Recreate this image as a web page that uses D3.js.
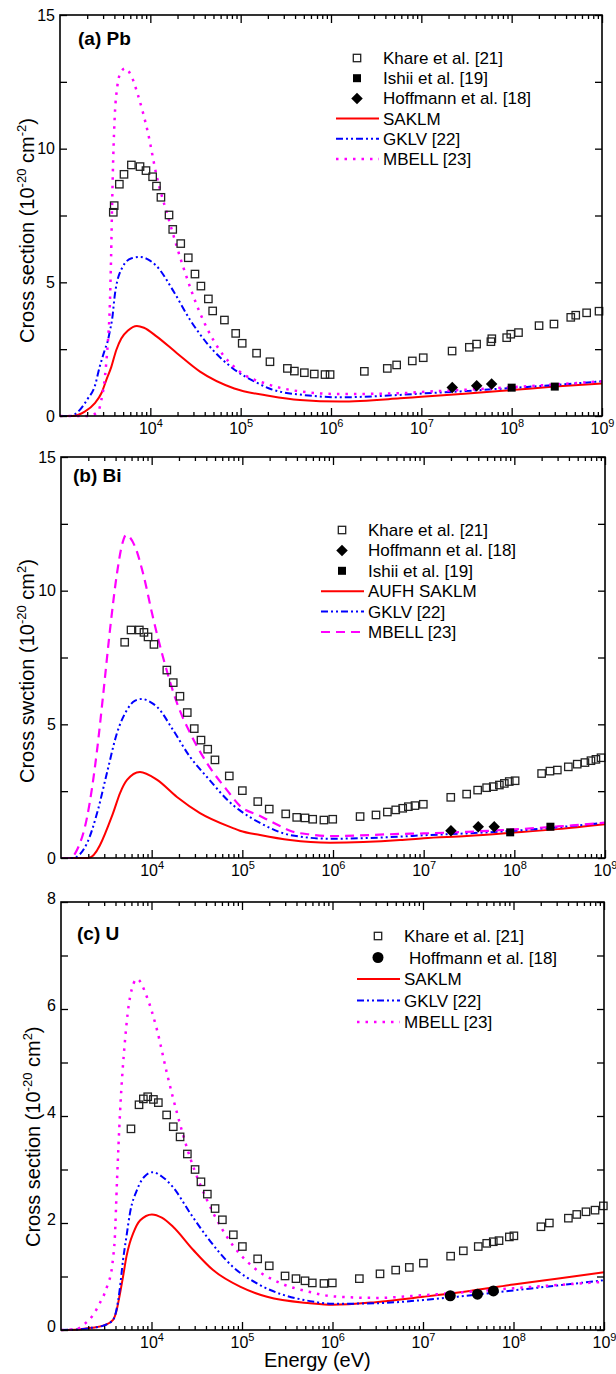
<!DOCTYPE html>
<html lang="en">
<head>
<meta charset="utf-8">
<style>
  body { margin: 0; background: #fff; }
  svg { display: block; font-family: "Liberation Sans", Arial, sans-serif; }
</style>
<script src="https://d3js.org/d3.v7.min.js"></script>
</head>
<body>
<svg width="616" height="1374"></svg>
<script>
// ---------- data : [energy (eV), cross section (1e-20 cm2)] ----------
var xTickValues = [1e4, 1e5, 1e6, 1e7, 1e8, 1e9];

// (a) Pb
var pbKhare = [[3890,7.62],[3980,7.87],[4540,8.67],[5110,9.04],[6170,9.39],[7690,9.33],[8950,9.18],
  [10600,8.95],[11700,8.6],[13100,8.18],[16100,7.52],[17700,6.98],[21700,6.45],[26300,5.92],
  [31200,5.31],[36300,4.86],[43900,4.38],[49000,3.93],[66100,3.59],[88100,3.09],[104000,2.72],
  [150000,2.35],[211000,2.03],[329000,1.78],[393000,1.68],[507000,1.62],[653000,1.57],
  [859000,1.55],[977000,1.55],[2.34e6,1.67],[4.2e6,1.78],[5.33e6,1.91],[7.94e6,2.06],
  [1.05e7,2.18],[2.19e7,2.43],[3.4e7,2.57],[4.09e7,2.69],[5.89e7,2.78],[6.03e7,2.89],
  [8.81e7,2.93],[9.77e7,3.06],[1.19e8,3.12],[2.01e8,3.38],[2.94e8,3.44],[4.51e8,3.69],
  [5.12e8,3.77],[6.76e8,3.86],[9.27e8,3.92]];
var pbIshii = [[1e8,1.06],[3e8,1.1]];
var pbHoffmann = [[2.2e7,1.07],[4.1e7,1.13],[6e7,1.2]];
var pbSAKLM = [[1000,0],[1390,0],[1880,0.16],[2420,0.47],[2870,0.85],[3260,1.35],[3700,1.84],
  [4200,2.47],[4770,2.9],[5660,3.2],[7100,3.37],[8500,3.3],[11800,2.97],[19700,2.35],
  [35500,1.66],[85000,1.03],[211000,0.75],[454000,0.6],[1.26e6,0.54],[5.8e6,0.66],[1e7,0.72],
  [3e7,0.83],[1e8,0.97],[3e8,1.1],[1e9,1.22]];
var pbGKLV = [[1000,0],[1280,0],[1650,0.22],[2040,0.66],[2420,1.1],[2750,1.84],[3130,2.47],
  [3400,2.84],[3550,3.15],[3770,3.6],[4070,4.6],[4980,5.6],[6200,5.9],[7700,5.95],[9500,5.85],
  [11800,5.6],[17800,4.7],[27500,3.6],[42400,2.72],[82000,1.78],[150000,1.25],[211000,1.02],
  [300000,0.88],[454000,0.8],[1.26e6,0.7],[5.8e6,0.79],[1e7,0.84],[3e7,0.93],[1e8,1.05],
  [3e8,1.16],[1e9,1.3]];
var pbMBELL = [[1000,0],[2040,0],[2640,0.16],[2870,0.6],[3070,1.16],[3260,2.03],[3400,2.84],
  [3550,4.0],[3680,6.0],[3760,7.6],[3880,9.6],[4050,11.3],[4300,12.3],[4700,12.85],[5250,13.0],
  [6200,12.7],[7300,12.0],[9400,10.6],[11800,8.95],[15700,7.45],[23000,5.6],[35500,3.85],
  [55000,2.6],[98400,1.65],[195000,1.2],[454000,0.92],[1.26e6,0.82],[5.8e6,0.85],[1e7,0.9],
  [3e7,0.98],[1e8,1.08],[3e8,1.18],[1e9,1.3]];

// (b) Bi
var biKhare = [[5040,8.07],[5920,8.53],[7310,8.53],[8220,8.44],[9120,8.27],[10600,7.99],
  [14700,7.03],[17300,6.56],[20500,6.05],[24700,5.44],[29500,4.84],[35000,4.41],[41500,4.07],
  [49900,3.67],[71800,3.07],[100000,2.52],[148000,2.11],[198000,1.83],[301000,1.65],
  [398000,1.52],[491000,1.5],[597000,1.45],[794000,1.42],[993000,1.45],[1.99e6,1.55],
  [2.98e6,1.61],[3.98e6,1.72],[4.92e6,1.8],[5.87e6,1.86],[6.78e6,1.92],[8.02e6,1.96],
  [9.91e6,2.01],[1.99e7,2.27],[2.98e7,2.39],[3.94e7,2.54],[4.95e7,2.63],[5.86e7,2.67],
  [6.84e7,2.73],[7.76e7,2.79],[8.79e7,2.86],[1.02e8,2.89],[2.0e8,3.16],[2.47e8,3.25],
  [2.98e8,3.29],[3.94e8,3.41],[4.94e8,3.51],[6.01e8,3.57],[7.0e8,3.64],[7.94e8,3.69],
  [9.04e8,3.75]];
var biHoffmann = [[2e7,1.02],[4e7,1.17],[6e7,1.17]];
var biIshii = [[9e7,0.96],[2.5e8,1.17]];
var biSAKLM = [[1000,0],[2000,0],[3750,1.68],[4480,2.43],[5350,2.92],[7430,3.22],[11500,2.92],
  [19000,2.28],[34100,1.68],[78900,1.12],[94000,1.02],[157000,0.86],[336000,0.67],
  [930000,0.57],[5.5e6,0.67],[1e7,0.74],[3e7,0.82],[1e8,0.95],[3e8,1.08],[1e9,1.26]];
var biGKLV = [[1000,0],[1350,0],[1940,0.56],[2500,1.68],[3210,3.18],[4150,4.68],[5350,5.54],
  [6500,5.88],[7820,5.95],[9500,5.85],[11500,5.65],[17200,4.79],[26500,3.78],[40700,3.03],
  [78900,1.98],[94000,1.78],[157000,1.31],[336000,0.86],[930000,0.72],[5.5e6,0.8],[1e7,0.85],
  [3e7,0.92],[1e8,1.02],[3e8,1.15],[1e9,1.32]];
var biMBELL = [[1000,0],[1260,0],[1500,0.3],[1940,1.53],[2500,4.04],[2900,6.02],[3470,8.53],
  [4150,10.66],[4700,11.7],[5210,12.08],[6550,11.65],[8020,10.66],[10300,9.02],[13300,7.53],
  [19000,5.8],[26500,4.68],[40700,3.55],[67700,2.54],[94000,1.95],[157000,1.57],[260000,1.2],
  [336000,1.02],[560000,0.88],[930000,0.82],[5.5e6,0.9],[1e7,0.92],[3e7,0.98],[1e8,1.07],
  [3e8,1.18],[1e9,1.32]];

// (c) U
var uKhare = [[5930,3.76],[7280,4.21],[8130,4.32],[9080,4.36],[10500,4.31],[11900,4.25],
  [14700,4.02],[17400,3.8],[20700,3.61],[24900,3.29],[30300,3.0],[35200,2.77],[41400,2.54],
  [50400,2.27],[60700,2.06],[80200,1.78],[101000,1.56],[149000,1.33],[200000,1.2],
  [299000,1.01],[395000,0.96],[497000,0.92],[598000,0.88],[805000,0.87],[995000,0.88],
  [1.98e6,0.96],[3.35e6,1.05],[4.99e6,1.12],[7.06e6,1.17],[1.01e7,1.25],[2.02e7,1.38],
  [2.79e7,1.48],[4.08e7,1.56],[5.06e7,1.62],[5.98e7,1.65],[6.92e7,1.67],[9.0e7,1.74],
  [1.01e8,1.76],[2.01e8,1.93],[2.49e8,2.0],[4.04e8,2.09],[5.0e8,2.16],[6.32e8,2.21],
  [7.96e8,2.24],[9.84e8,2.32]];
var uHoffmann = [[2e7,0.64],[4e7,0.67],[6e7,0.73]];
var uSAKLM = [[1000,0],[1540,0.01],[2160,0.04],[3040,0.09],[3760,0.19],[4080,0.34],[4450,0.65],
  [4850,1.0],[5300,1.38],[5740,1.62],[6250,1.8],[7500,2.05],[10100,2.16],[13000,2.1],
  [17300,1.93],[28800,1.5],[47900,1.12],[95100,0.81],[189000,0.62],[564000,0.5],[1e6,0.47],
  [3e6,0.52],[1e7,0.62],[3e7,0.72],[1e8,0.85],[3e8,0.96],[1e9,1.08]];
var uGKLV = [[1000,0],[1540,0.01],[2160,0.04],[3040,0.09],[3760,0.19],[4080,0.36],[4450,0.75],
  [4840,1.3],[5290,1.75],[5790,2.19],[6920,2.62],[8500,2.88],[10400,2.95],[13000,2.87],
  [17300,2.67],[26600,2.19],[41000,1.74],[79400,1.18],[158000,0.84],[564000,0.54],[1e6,0.49],
  [3e6,0.5],[1e7,0.56],[3e7,0.64],[1e8,0.74],[3e8,0.83],[1e9,0.93]];
var uMBELL = [[1000,0],[1500,0.02],[1750,0.09],[2260,0.28],[2680,0.5],[3040,0.69],[3310,0.87],
  [3600,1.09],[3760,1.34],[3920,1.68],[4160,2.8],[4490,4.06],[5100,5.42],[5790,6.22],
  [6920,6.56],[8920,6.22],[11500,5.61],[14800,4.8],[19100,4.06],[26600,3.23],[41000,2.43],
  [68200,1.74],[132000,1.18],[263000,0.88],[564000,0.71],[1e6,0.63],[3e6,0.6],[1e7,0.65],
  [3e7,0.71],[1e8,0.78],[3e8,0.84],[1e9,0.9]];

// ---------- drawing ----------
var svg = d3.select("svg");
var RED = "#ff0000", BLUE = "#0000ff", MAG = "#ff00ff";
var lineStyles = {
  saklm: { color: RED, dash: null, w: 2 },
  gklv: { color: BLUE, dash: "7,3,2,3,2,3", w: 2 },
  mbellDot: { color: MAG, dash: "2.5,6", w: 2.5 },
  mbellDash: { color: MAG, dash: "9,6", w: 2.2 }
};

var minorX = [];
for (var k = 3; k < 9; k++) for (var m = 2; m < 10; m++) minorX.push(m * Math.pow(10, k));

function drawMarker(g, type, x, y) {
  if (type === "open") {
    g.append("rect").attr("x", x - 3.7).attr("y", y - 3.7).attr("width", 7.4).attr("height", 7.4)
      .attr("fill", "none").attr("stroke", "#222").attr("stroke-width", 1.3);
  } else if (type === "square") {
    g.append("rect").attr("x", x - 4).attr("y", y - 4).attr("width", 8).attr("height", 8)
      .attr("fill", "#000");
  } else if (type === "diamond") {
    g.append("path").attr("d", d3.symbol(d3.symbolSquare, 66)())
      .attr("transform", "translate(" + x + "," + y + ") rotate(45)").attr("fill", "#000");
  } else if (type === "circle") {
    g.append("circle").attr("cx", x).attr("cy", y).attr("r", 5.5).attr("fill", "#000");
  }
}

// d3.axis puts its own font on each axis group; swap it for ours
function axisFont(sel) {
  sel.attr("font-family", null).attr("font-size", 16);
}

function drawPanel(p) {
  var x = d3.scaleLog().domain([1e3, 1e9]).range([p.left, p.right]);
  var y = d3.scaleLinear().domain([0, p.yMax]).range([p.bottom, p.top]);
  var g = svg.append("g");

  // curves
  var line = d3.line().x(function(d) { return x(d[0]); }).y(function(d) { return y(d[1]); })
    .curve(d3.curveMonotoneX);
  p.curves.forEach(function(c) {
    var st = lineStyles[c.style];
    g.append("path").datum(c.data).attr("d", line).attr("fill", "none")
      .attr("stroke", st.color).attr("stroke-width", st.w)
      .attr("stroke-dasharray", st.dash);
  });

  // points
  p.points.forEach(function(s) {
    s.data.forEach(function(d) { drawMarker(g, s.type, x(d[0]), y(d[1])); });
  });

  // axes
  var ax = g.append("g");
  var bottom = ax.append("g").attr("transform", "translate(0," + p.bottom + ")")
    .call(d3.axisBottom(x).tickValues(xTickValues).tickSizeInner(-8).tickSizeOuter(0).tickPadding(7))
    .call(axisFont);
  bottom.selectAll(".tick text").each(function(d) {
    var t = d3.select(this).text(null).attr("fill", "#000");
    t.append("tspan").text("10");
    t.append("tspan").attr("dy", -7).attr("font-size", 11).text(Math.round(Math.log10(d)));
  });
  ax.append("g").attr("transform", "translate(0," + p.bottom + ")")
    .call(d3.axisBottom(x).tickValues(minorX).tickSizeInner(-4).tickSizeOuter(0).tickFormat(""));
  ax.append("g").attr("transform", "translate(0," + p.top + ")")
    .call(d3.axisTop(x).tickValues(xTickValues).tickSizeInner(-8).tickSizeOuter(0).tickFormat(""));
  ax.append("g").attr("transform", "translate(0," + p.top + ")")
    .call(d3.axisTop(x).tickValues(minorX).tickSizeInner(-4).tickSizeOuter(0).tickFormat(""));

  var left = ax.append("g").attr("transform", "translate(" + p.left + ",0)")
    .call(d3.axisLeft(y).tickValues(p.yTicks).tickSizeInner(-7).tickSizeOuter(0).tickPadding(5)
      .tickFormat(function(d) { return p.yLabels.indexOf(d) >= 0 ? d : ""; }))
    .call(axisFont);
  left.selectAll(".tick text").attr("fill", "#000").attr("dy", p.yDy);
  ax.append("g").attr("transform", "translate(" + p.right + ",0)")
    .call(d3.axisRight(y).tickValues(p.yTicks).tickSizeInner(-7).tickSizeOuter(0).tickFormat(""));
  ax.selectAll(".domain").remove();
  ax.selectAll(".tick line").attr("stroke", "#000").attr("stroke-width", 1.3);

  g.append("rect").attr("x", p.left).attr("y", p.top)
    .attr("width", p.right - p.left).attr("height", p.bottom - p.top)
    .attr("fill", "none").attr("stroke", "#000").attr("stroke-width", 1.6);

  // panel title
  g.append("text").attr("x", p.titleX).attr("y", p.titleY).attr("font-size", 19)
    .attr("font-weight", "bold").text(p.title);

  // y axis title
  var yt = g.append("text").attr("transform", "translate(" + p.yTitleX + "," + p.yTitleY + ") rotate(-90)")
    .attr("font-size", 20);
  p.yTitle.forEach(function(part) {
    if (part.sup) yt.append("tspan").attr("dy", -8).attr("font-size", 13).text(part.sup);
    else yt.append("tspan").attr("dy", part.after ? 8 : 0).text(part.t);
  });

  // legend
  var lg = g.append("g").attr("font-size", 17);
  p.legend.forEach(function(e, i) {
    var cy = p.legY + i * p.legStep;
    if (e.marker) {
      drawMarker(lg, e.marker, p.legX + 21, cy);
    } else {
      var st = lineStyles[e.style];
      lg.append("line").attr("x1", p.legX).attr("x2", p.legX + 43).attr("y1", cy).attr("y2", cy)
        .attr("stroke", st.color).attr("stroke-width", st.w).attr("stroke-dasharray", st.dash);
    }
    lg.append("text").attr("x", p.legX + 47 + (e.dx || 0)).attr("y", cy + 6).text(e.label);
  });
}

function yTitleParts(exp2, word) {
  return [{ t: "Cross " + word + " (10" }, { sup: "-20" }, { t: " cm", after: true },
    { sup: exp2 }, { t: ")", after: true }];
}

drawPanel({
  left: 60, right: 602, top: 15, bottom: 416, yMax: 15, yDy: "0.32em",
  yTicks: [0, 2.5, 5, 7.5, 10, 12.5, 15], yLabels: [0, 5, 10, 15],
  title: "(a) Pb", titleX: 78, titleY: 45,
  yTitle: yTitleParts("-2", "section"), yTitleX: 34, yTitleY: 343,
  curves: [{ data: pbSAKLM, style: "saklm" }, { data: pbGKLV, style: "gklv" }, { data: pbMBELL, style: "mbellDot" }],
  points: [{ data: pbKhare, type: "open" }, { data: pbIshii, type: "square" }, { data: pbHoffmann, type: "diamond" }],
  legX: 336, legY: 58, legStep: 20.2,
  legend: [
    { marker: "open", label: "Khare et al. [21]" },
    { marker: "square", label: "Ishii et al. [19]" },
    { marker: "diamond", label: "Hoffmann et al. [18]" },
    { style: "saklm", label: "SAKLM" },
    { style: "gklv", label: "GKLV [22]" },
    { style: "mbellDot", label: "MBELL [23]" }
  ]
});

drawPanel({
  left: 61, right: 605, top: 457, bottom: 858, yMax: 15, yDy: "0.32em",
  yTicks: [0, 2.5, 5, 7.5, 10, 12.5, 15], yLabels: [0, 5, 10, 15],
  title: "(b) Bi", titleX: 73, titleY: 482,
  yTitle: yTitleParts("2", "swction"), yTitleX: 33.5, yTitleY: 783,
  curves: [{ data: biSAKLM, style: "saklm" }, { data: biGKLV, style: "gklv" }, { data: biMBELL, style: "mbellDash" }],
  points: [{ data: biKhare, type: "open" }, { data: biHoffmann, type: "diamond" }, { data: biIshii, type: "square" }],
  legX: 321, legY: 530, legStep: 20.4,
  legend: [
    { marker: "open", label: "Khare et al. [21]" },
    { marker: "diamond", label: "Hoffmann et al. [18]" },
    { marker: "square", label: "Ishii et al. [19]" },
    { style: "saklm", label: "AUFH SAKLM" },
    { style: "gklv", label: "GKLV [22]" },
    { style: "mbellDash", label: "MBELL [23]" }
  ]
});

drawPanel({
  left: 61, right: 604, top: 902, bottom: 1330, yMax: 8, yDy: "0.1em",
  yTicks: [0, 1, 2, 3, 4, 5, 6, 7, 8], yLabels: [0, 2, 4, 6, 8],
  title: "(c) U", titleX: 77, titleY: 940,
  yTitle: yTitleParts("2", "section"), yTitleX: 40, yTitleY: 1247,
  curves: [{ data: uSAKLM, style: "saklm" }, { data: uGKLV, style: "gklv" }, { data: uMBELL, style: "mbellDot" }],
  points: [{ data: uKhare, type: "open" }, { data: uHoffmann, type: "circle" }],
  legX: 357, legY: 936, legStep: 21.5,
  legend: [
    { marker: "open", label: "Khare et al. [21]" },
    { marker: "circle", label: "Hoffmann et al. [18]", dx: 5 },
    { style: "saklm", label: "SAKLM" },
    { style: "gklv", label: "GKLV [22]" },
    { style: "mbellDot", label: "MBELL [23]" }
  ]
});

svg.append("text").attr("x", 264).attr("y", 1367).attr("font-size", 20).text("Energy (eV)");
</script>
</body>
</html>
